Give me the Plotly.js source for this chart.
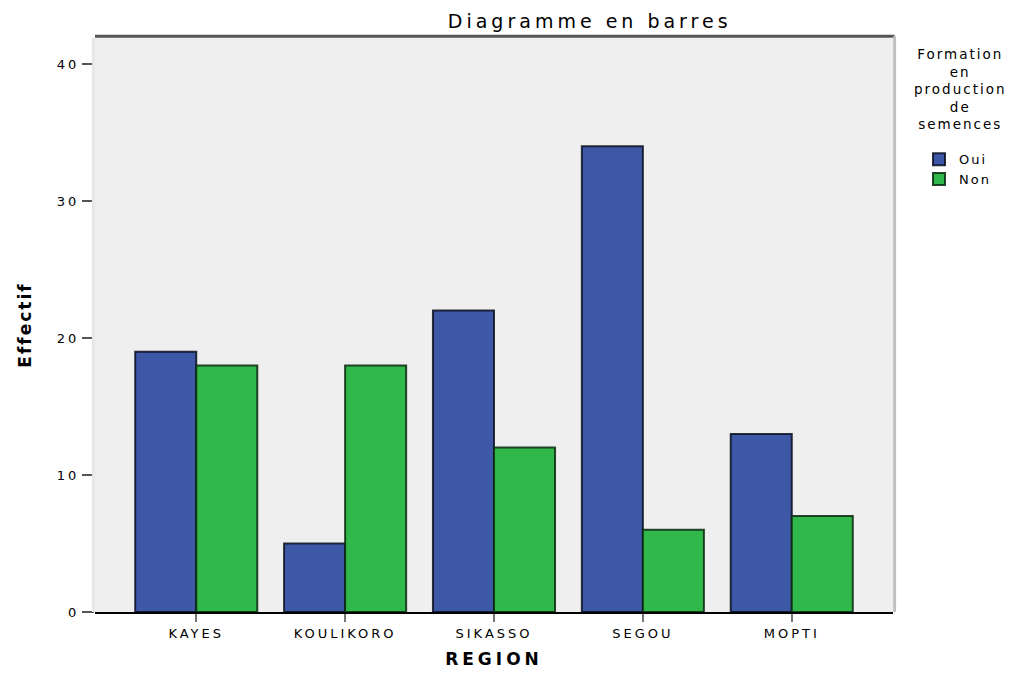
<!DOCTYPE html>
<html>
<head>
<meta charset="utf-8">
<script src="https://cdn.plot.ly/plotly-3.0.1.min.js"></script>
<style>
html,body{margin:0;padding:0;background:#fff;}
#chart{width:1022px;height:676px;}
#chart .gtitle{letter-spacing:4px;}
#chart .xtick text{letter-spacing:3px;}
#chart .ytick text{letter-spacing:3px;}
#chart .g-xtitle text{letter-spacing:4px;}
#chart .g-ytitle text{letter-spacing:2px;}
#chart .annotation-text, #chart .legendtext{letter-spacing:2px;}
</style>
</head>
<body>
<div id="chart"></div>
<script>
const regions = ["KAYES", "KOULIKORO", "SIKASSO", "SEGOU", "MOPTI"];
const oui = [19, 5, 22, 34, 13];
const non = [18, 18, 12, 6, 7];
const yTicks = [0, 10, 20, 30, 40];
const seriesNames = ["Oui", "Non"];
const legendTitle = "Formation<br>en<br>production<br>de<br>semences";

const font = "DejaVu Sans, Liberation Sans, sans-serif";
const traces = [
  {type: "bar", name: seriesNames[0], x: regions, y: oui,
   marker: {color: "#3e58a8", line: {color: "rgba(10,15,30,0.85)", width: 2}}},
  {type: "bar", name: seriesNames[1], x: regions, y: non,
   marker: {color: "#30b84a", line: {color: "rgba(10,40,15,0.85)", width: 2}}}
];
const layout = {
  width: 1022, height: 676,
  margin: {l: 95, r: 129, t: 38, b: 64},
  paper_bgcolor: "#ffffff", plot_bgcolor: "#efefef",
  barmode: "group", bargap: 0.18, bargroupgap: 0,
  font: {family: font, color: "#000"},
  title: {text: "Diagramme en barres", x: 0.577, xanchor: "center", y: 0.978, yanchor: "top",
          font: {size: 19, family: font}},
  xaxis: {range: [-0.68, 4.68], showgrid: false, showline: true, linecolor: "#000", linewidth: 2,
          ticks: "outside", ticklen: 8, tickcolor: "#777", tickwidth: 2,
          tickfont: {size: 13, family: font}, zeroline: false,
          title: {text: "<b>REGION</b>", font: {size: 17, family: font}, standoff: 14}},
  yaxis: {range: [0, 41.9], tickvals: yTicks, showgrid: false, showline: false, zeroline: false,
          ticks: "outside", ticklen: 12, tickcolor: "#555", tickwidth: 2,
          tickfont: {size: 13, family: font},
          title: {text: "<b>Effectif</b>", font: {size: 17, family: font}, standoff: 26}},
  showlegend: true,
  legend: {x: 1.0326, xanchor: "left", y: 0.815, yanchor: "top", bgcolor: "rgba(0,0,0,0)",
           font: {size: 13, family: font}, itemwidth: 30, tracegroupgap: 0},
  annotations: [
    {xref: "paper", yref: "paper", x: 1.084, y: 0.99, xanchor: "center", yanchor: "top",
     text: legendTitle, showarrow: false, align: "center",
     font: {size: 13.5, family: font, color: "#000"}}
  ],
  shapes: [
    {type: "line", xref: "paper", yref: "paper", x0: 0, x1: 1.002, y0: 1.003, y1: 1.003,
     line: {color: "#555", width: 3}},
    {type: "line", xref: "paper", yref: "paper", x0: 1.002, x1: 1.002, y0: 0, y1: 1.003,
     line: {color: "#c0c0c0", width: 3}},
    {type: "line", xref: "paper", yref: "paper", x0: -0.002, x1: -0.002, y0: 0, y1: 1,
     line: {color: "#e6e6e6", width: 3}}
  ]
};
Plotly.newPlot("chart", traces, layout, {displayModeBar: false, staticPlot: true});
</script>
</body>
</html>
